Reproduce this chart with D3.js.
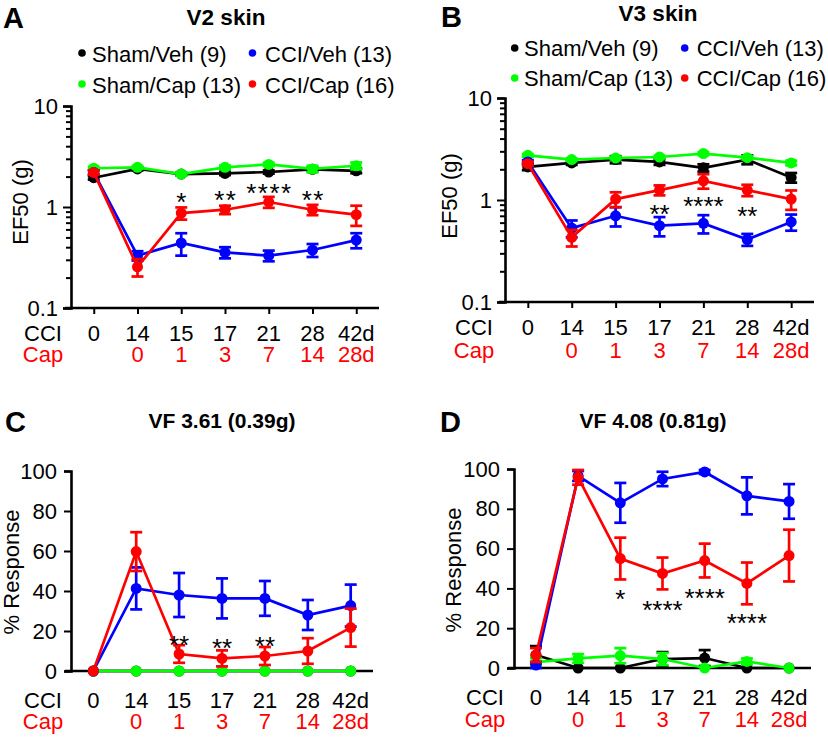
<!DOCTYPE html>
<html><head><meta charset="utf-8">
<script src="https://cdn.jsdelivr.net/npm/d3@7"></script>
<style>
body{margin:0;background:#fff}
text{font-family:"Liberation Sans",Arial,Helvetica,sans-serif}
</style>
</head><body>
<svg id="chart" width="828" height="737"></svg>
<script>
// ---------- DATA ----------
const cciLabels = ["0", "14", "15", "17", "21", "28", "42d"];
const capLabels = ["", "0", "1", "3", "7", "14", "28d"];
const seriesKeys = ["shamVeh", "shamCap", "cciVeh", "cciCap"]; // draw order
const legendRows = [["Sham/Veh (9)", "CCI/Veh (13)"], ["Sham/Cap (13)", "CCI/Cap (16)"]];
const legendKeys = [["shamVeh", "cciVeh"], ["shamCap", "cciCap"]];

// Panel A: V2 skin, EF50 (g)
const aShamVeh = [1.95, 2.38, 2.12, 2.15, 2.22, 2.36, 2.28];
const aShamVehErr = [0.08, 0.08, 0.07, 0.08, 0.08, 0.1, 0.12];
const aShamCap = [2.42, 2.47, 2.12, 2.47, 2.64, 2.38, 2.56];
const aShamCapErr = [0.08, 0.08, 0.08, 0.1, 0.1, 0.18, 0.2];
const aCciVeh = [2.2, 0.33, 0.44, 0.355, 0.33, 0.375, 0.47];
const aCciVehErr = [0.1, 0.035, 0.11, 0.045, 0.04, 0.055, 0.08];
const aCciCap = [2.2, 0.255, 0.87, 0.94, 1.12, 0.94, 0.84];
const aCciCapErr = [0.1, 0.05, 0.12, 0.09, 0.14, 0.11, 0.19];
const aSig = ["", "", "*", "**", "****", "**", ""];
const aSigY = [null, null, 1.285, 1.35, 1.58, 1.35, null];

// Panel B: V3 skin, EF50 (g)
const bShamVeh = [2.11, 2.31, 2.49, 2.36, 2.07, 2.49, 1.66];
const bShamVehErr = [0.15, 0.1, 0.2, 0.15, 0.17, 0.25, 0.18];
const bShamCap = [2.74, 2.49, 2.58, 2.64, 2.85, 2.6, 2.31];
const bShamCapErr = [0.08, 0.08, 0.08, 0.08, 0.1, 0.1, 0.12];
const bCciVeh = [2.36, 0.53, 0.70, 0.56, 0.59, 0.41, 0.61];
const bCciVehErr = [0.1, 0.1, 0.15, 0.12, 0.12, 0.055, 0.11];
const bCciCap = [2.27, 0.43, 1.02, 1.25, 1.54, 1.25, 1.02];
const bCciCapErr = [0.1, 0.08, 0.17, 0.14, 0.25, 0.16, 0.22];
const bSig = ["", "", "", "**", "****", "**", ""];
const bSigY = [null, null, null, 0.835, 1.0, 0.80, null];

// Panel C: VF 3.61 (0.39g), % Response
const cShamVeh = [0, 0, 0, 0, 0, 0, 0];
const cShamVehErr = [0, 0, 0, 0, 0, 0, 0];
const cShamCap = [0, 0, 0, 0, 0, 0, 0];
const cShamCapErr = [0, 0, 0, 0, 0, 0, 0];
const cCciVeh = [0, 41.3, 38, 36.3, 36.3, 28, 32.7];
const cCciVehErr = [0, 10.5, 11, 10, 8.7, 7.5, 10.5];
const cCciCap = [0, 59.7, 8.5, 6.3, 7.5, 10, 21.7];
const cCciCapErr = [0, 9.7, 4.4, 4, 4.5, 6.4, 9.5];
const cSig = ["", "", "**", "**", "**", "", ""];
const cSigY = [null, null, 16, 14.5, 15.5, null, null];

// Panel D: VF 4.08 (0.81g), % Response
const dShamVeh = [6.5, 0, 0, 4.5, 5, 0, 0];
const dShamVehErr = [4.5, 0, 0, 3.5, 4, 0, 0];
const dShamCap = [3, 4.8, 6.2, 4.5, 0, 3.3, 0];
const dShamCapErr = [2, 2.2, 3.8, 3, 0, 1.5, 0];
const dCciVeh = [1.5, 96.5, 83, 95, 98.5, 86.5, 83.7];
const dCciVehErr = [1.5, 2.5, 10, 3.6, 1, 9.3, 8.7];
const dCciCap = [6.5, 95.8, 55, 47.5, 54, 42.5, 56.5];
const dCciCapErr = [3.5, 3.7, 10.5, 8, 8.5, 10.5, 13];
const dSig = ["", "", "*", "****", "****", "****", ""];
const dSigY = [null, null, 37.7, 32.2, 38.2, 25.6, null];

const logTicks = [0.1,0.2,0.3,0.4,0.5,0.6,0.7,0.8,0.9,1,2,3,4,5,6,7,8,9,10];
const logLabels = [0.1, 1, 10];
const pctTicks = [0, 20, 40, 60, 80, 100];

// ---------- STYLE ----------
const colors = {shamVeh: "#000000", shamCap: "#00ff00", cciVeh: "#0000ff", cciCap: "#ff0000"};
const FONT = 22;
const SIGFONT = 26;
const svg = d3.select("#chart");

const panels = [
  {letter: "A", title: "V2 skin", letterX: 3, letterY: 28, titleX: 226, titleY: 25,
   log: true, left: 71, right: 379, yTop: 106, yBot: 308, xTicks: true,
   yLabel: "EF50 (g)", yLabelX: 27.5, yLabelY: 202,
   rowX: 43, cciY: 341, capY: 362,
   legend: {y: [62, 93], dotX: [82, 252.5], textX: [92, 265], dotDy: -9},
   data: {shamVeh: [aShamVeh, aShamVehErr], shamCap: [aShamCap, aShamCapErr], cciVeh: [aCciVeh, aCciVehErr], cciCap: [aCciCap, aCciCapErr]},
   sig: aSig, sigY: aSigY, sigSpacing: 1.5},
  {letter: "B", title: "V3 skin", letterX: 441, letterY: 27, titleX: 658, titleY: 21,
   log: true, left: 505, right: 814, yTop: 98, yBot: 302, xTicks: true,
   yLabel: "EF50 (g)", yLabelX: 456.5, yLabelY: 196,
   rowX: 474, cciY: 335, capY: 358,
   legend: {y: [56, 86], dotX: [514.7, 684.7], textX: [524, 696.7], dotDy: -8},
   data: {shamVeh: [bShamVeh, bShamVehErr], shamCap: [bShamCap, bShamCapErr], cciVeh: [bCciVeh, bCciVehErr], cciCap: [bCciCap, bCciCapErr]},
   sig: bSig, sigY: bSigY, sigSpacing: 0},
  {letter: "C", title: "VF 3.61 (0.39g)", letterX: 5, letterY: 432, titleX: 222, titleY: 428,
   log: false, left: 71, right: 373, yTop: 471, yBot: 671, xTicks: false,
   yLabel: "% Response", yLabelX: 19, yLabelY: 572,
   rowX: 43, cciY: 708, capY: 729,
   data: {shamVeh: [cShamVeh, cShamVehErr], shamCap: [cShamCap, cShamCapErr], cciVeh: [cCciVeh, cCciVehErr], cciCap: [cCciCap, cCciCapErr]},
   sig: cSig, sigY: cSigY, sigSpacing: 0},
  {letter: "D", title: "VF 4.08 (0.81g)", letterX: 440, letterY: 432, titleX: 653, titleY: 428,
   log: false, left: 514, right: 811, yTop: 469, yBot: 668, xTicks: false,
   yLabel: "% Response", yLabelX: 461, yLabelY: 570,
   rowX: 485, cciY: 705, capY: 727,
   data: {shamVeh: [dShamVeh, dShamVehErr], shamCap: [dShamCap, dShamCapErr], cciVeh: [dCciVeh, dCciVehErr], cciCap: [dCciCap, dCciCapErr]},
   sig: dSig, sigY: dSigY, sigSpacing: 0}
];

panels.forEach(p => {
  const g = svg.append("g");
  const idx = d3.range(cciLabels.length);
  const x = d3.scalePoint().domain(idx).range([p.left, p.right]).padding(0.52);
  const y = p.log
    ? d3.scaleLog().domain([0.1, 10]).range([p.yBot, p.yTop])
    : d3.scaleLinear().domain([0, 100]).range([p.yBot, p.yTop]);
  const yv = v => p.log ? y(Math.max(v, 0.1)) : y(Math.max(v, 0));

  // panel letter & title
  g.append("text").attr("x", p.letterX).attr("y", p.letterY)
    .attr("font-size", 29).attr("font-weight", "bold").text(p.letter);
  g.append("text").attr("x", p.titleX).attr("y", p.titleY).attr("text-anchor", "middle")
    .attr("font-size", p.log ? 22.5 : 21).attr("font-weight", "bold").text(p.title);

  // y axis
  const yAxis = d3.axisLeft(y).tickSizeOuter(0);
  if (p.log) {
    yAxis.tickValues(logTicks).tickSize(8).tickPadding(5)
      .tickFormat(d => logLabels.some(l => Math.abs(l - d) < 1e-9) ? d3.format("~g")(d) : "");
  } else {
    yAxis.tickValues(pctTicks).tickSize(7).tickPadding(7).tickFormat(d3.format("d"));
  }
  const ya = g.append("g").attr("transform", `translate(${p.left},0)`).call(yAxis);
  if (p.log) {
    ya.selectAll(".tick").filter(d => !logLabels.some(l => Math.abs(l - d) < 1e-9))
      .select("line").attr("x2", -5);
  }
  ya.select(".domain").attr("stroke-width", 2.6);
  ya.selectAll(".tick line").attr("stroke-width", 2);
  ya.selectAll(".tick text").attr("font-size", FONT).attr("fill", "#000")
    .style("font-family", '"Liberation Sans",Arial,sans-serif');

  // x axis
  const xAxis = d3.axisBottom(x).tickSizeOuter(0).tickSize(p.xTicks ? 6 : 0).tickFormat("");
  const xa = g.append("g").attr("transform", `translate(0,${p.yBot})`).call(xAxis);
  xa.select(".domain").attr("d", `M${p.left - 6},0H${p.right}`).attr("stroke-width", 2.6);
  xa.selectAll(".tick line").attr("stroke-width", 2);

  // category labels: CCI row and Cap row
  g.append("text").attr("x", p.rowX).attr("y", p.cciY).attr("text-anchor", "middle")
    .attr("font-size", FONT).text("CCI");
  g.append("text").attr("x", p.rowX).attr("y", p.capY).attr("text-anchor", "middle")
    .attr("font-size", FONT).attr("fill", "#ff0000").text("Cap");
  g.selectAll(".cciLab").data(idx).join("text")
    .attr("x", i => x(i)).attr("y", p.cciY).attr("text-anchor", "middle")
    .attr("font-size", FONT).text(i => cciLabels[i]);
  g.selectAll(".capLab").data(idx).join("text")
    .attr("x", i => x(i)).attr("y", p.capY).attr("text-anchor", "middle")
    .attr("font-size", FONT).attr("fill", "#ff0000").text(i => capLabels[i]);

  // y label
  g.append("text").attr("transform", `translate(${p.yLabelX},${p.yLabelY}) rotate(-90)`)
    .attr("text-anchor", "middle").attr("font-size", FONT).text(p.yLabel);

  // series
  seriesKeys.forEach(k => {
    const [vals, errs] = p.data[k];
    const col = colors[k];
    const sg = g.append("g");
    const line = d3.line().x((d, i) => x(i)).y(d => yv(d));
    sg.append("path").datum(vals).attr("d", line).attr("fill", "none")
      .attr("stroke", col).attr("stroke-width", 2.7);
    const eb = sg.selectAll(".eb").data(idx.filter(i => errs[i] > 0)).join("g");
    eb.append("line").attr("x1", i => x(i)).attr("x2", i => x(i))
      .attr("y1", i => yv(vals[i] - errs[i])).attr("y2", i => yv(vals[i] + errs[i]))
      .attr("stroke", col).attr("stroke-width", 2.7);
    [-1, 1].forEach(s => {
      eb.append("line").attr("x1", i => x(i) - 6).attr("x2", i => x(i) + 6)
        .attr("y1", i => yv(vals[i] + s * errs[i])).attr("y2", i => yv(vals[i] + s * errs[i]))
        .attr("stroke", col).attr("stroke-width", 2.7);
    });
    sg.selectAll("circle").data(idx).join("circle")
      .attr("cx", i => x(i)).attr("cy", i => yv(vals[i])).attr("r", 5.5).attr("fill", col);
  });

  // significance asterisks
  g.selectAll(".sig").data(idx.filter(i => p.sig[i])).join("text")
    .attr("x", i => x(i) + p.sigSpacing / 2).attr("y", i => y(p.sigY[i]) + 15)
    .attr("text-anchor", "middle").attr("font-size", SIGFONT)
    .attr("letter-spacing", p.sigSpacing).text(i => p.sig[i]);

  // legend
  if (p.legend) {
    legendRows.forEach((row, r) => {
      row.forEach((label, c) => {
        g.append("circle").attr("cx", p.legend.dotX[c]).attr("cy", p.legend.y[r] + p.legend.dotDy)
          .attr("r", 3.8).attr("fill", colors[legendKeys[r][c]]);
        g.append("text").attr("x", p.legend.textX[c]).attr("y", p.legend.y[r])
          .attr("font-size", FONT).text(label);
      });
    });
  }
});
</script>
</body></html>
